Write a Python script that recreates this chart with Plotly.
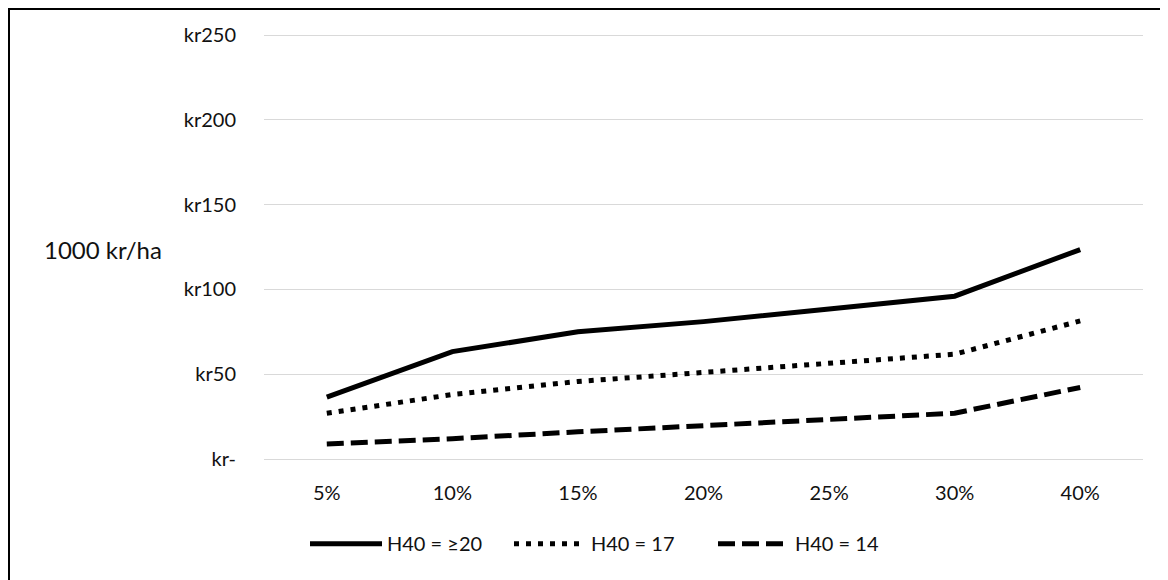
import plotly.graph_objects as go

# ---- data ----
categories = ["5%", "10%", "15%", "20%", "25%", "30%", "40%"]
h40_20 = [36.5, 63.3, 75.0, 81.0, 88.4, 96.0, 123.5]
h40_17 = [27.0, 38.0, 45.7, 51.2, 56.0, 61.8, 81.4]
h40_14 = [8.8, 12.0, 16.0, 19.8, 23.0, 27.0, 42.2]
series_names = ["H40 = \u226520", "H40 = 17", "H40 = 14"]
y_tickvals = [0, 50, 100, 150, 200, 250]
y_ticktext = ["kr-", "kr50", "kr100", "kr150", "kr200", "kr250"]
y_title = "1000 kr/ha"

# ---- layout geometry (pixels, page has an 8px body margin) ----
OFF = 8
W, H = 1168 - OFF, 580 - OFF
L, R = 264 - OFF, 1143 - OFF
B = 459.3 - OFF
Y_TOP = 250.6
T = B - Y_TOP * (424.3 / 250.0)
pw, ph = R - L, B - T


def px_x(x):
    return (x - L) / pw


def px_y(y):
    return (B - y) / ph


FONT = "Lato, Carlito, Calibri, sans-serif"
TXT = "#111111"

fig = go.Figure()
styles = [
    dict(color="black", width=5, dash="solid"),
    dict(color="black", width=5, dash="5px,7px"),
    dict(color="black", width=5, dash="17px,7px"),
]
for name, vals, st in zip(series_names, [h40_20, h40_17, h40_14], styles):
    fig.add_trace(go.Scatter(x=categories, y=vals, mode="lines", name=name,
                             line=st, hoverinfo="skip"))

fig.update_layout(
    width=W, height=H,
    margin=dict(l=L, r=W - R, t=T, b=H - B, pad=0),
    paper_bgcolor="white", plot_bgcolor="white",
    font=dict(family=FONT, size=20, color=TXT),
    showlegend=True,
    legend=dict(orientation="h", x=px_x(611 - OFF), xanchor="center",
                y=px_y(544 - OFF), yanchor="middle", itemwidth=72,
                entrywidth=117, entrywidthmode="pixels",
                font=dict(family=FONT, size=20, color=TXT),
                bgcolor="rgba(0,0,0,0)", traceorder="normal"),
    xaxis=dict(type="category", range=[-0.5, len(categories) - 0.5],
               showgrid=False, zeroline=False, showline=False,
               ticks="", ticklabelstandoff=20,
               tickfont=dict(family=FONT, size=20, color=TXT)),
    yaxis=dict(range=[0, Y_TOP], tickvals=y_tickvals, ticktext=y_ticktext,
               showgrid=True, gridcolor="#d9d9d9", gridwidth=1,
               zeroline=True, zerolinecolor="#d9d9d9", zerolinewidth=1,
               showline=False, ticks="", ticklabelstandoff=27,
               tickfont=dict(family=FONT, size=20, color=TXT)),
    annotations=[dict(text=y_title, xref="paper", yref="paper",
                      x=px_x(45 - OFF - 3), y=px_y(250 - OFF),
                      xanchor="left", yanchor="middle", showarrow=False,
                      font=dict(family=FONT, size=24, color=TXT))],
    shapes=[dict(type="rect", xref="paper", yref="paper",
                 x0=px_x(1), x1=px_x(W + 20), y0=px_y(1), y1=px_y(H + 20),
                 line=dict(color="black", width=2), fillcolor="rgba(0,0,0,0)",
                 layer="above")],
)

fig.write_html("out.html")
